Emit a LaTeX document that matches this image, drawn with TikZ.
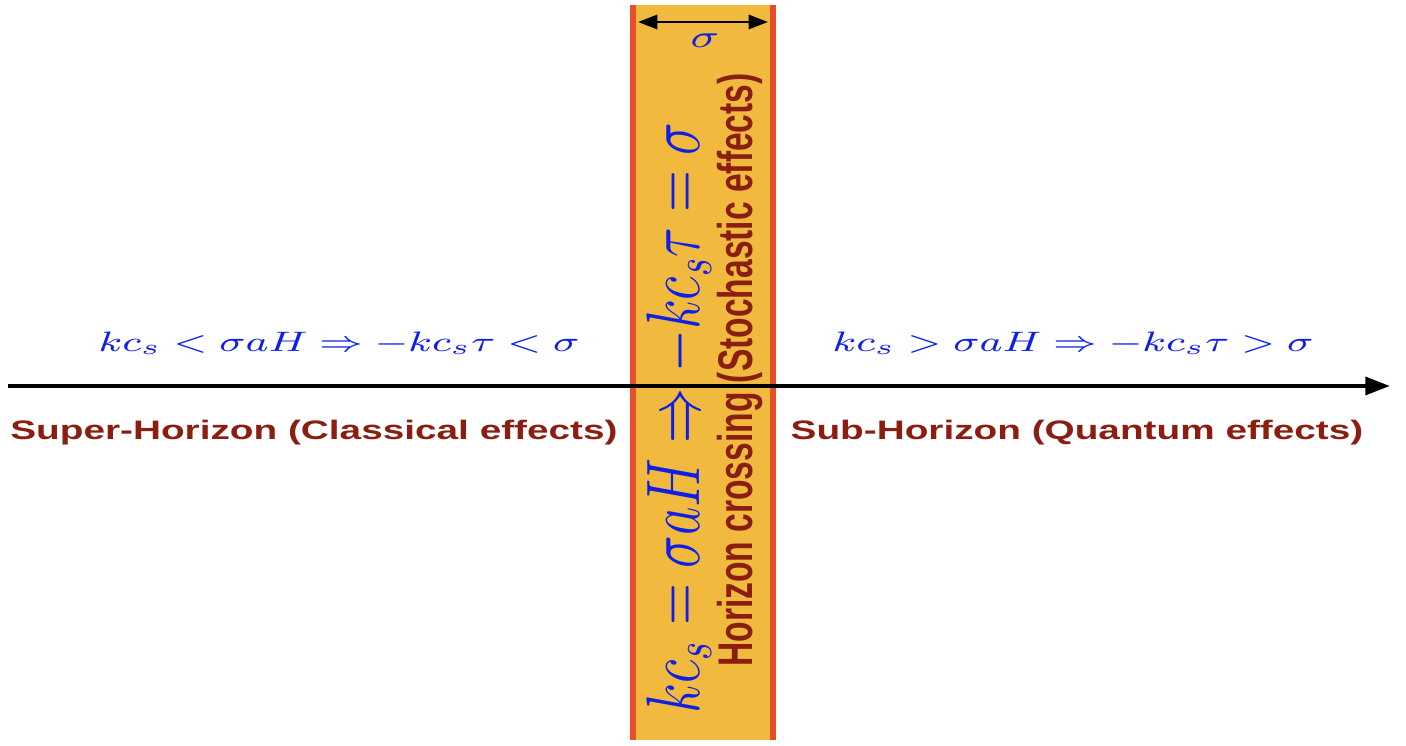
\documentclass[tikz,border=0pt]{standalone}
\usepackage{fontspec}
\newfontfamily\labelfont{Liberation Sans}
\usetikzlibrary{arrows.meta, positioning}
\definecolor{bandfill}{HTML}{F1BA3E}
\definecolor{bandline}{HTML}{E4502A}
\definecolor{relblue}{HTML}{0F1FE6}
\definecolor{regionred}{HTML}{8A1E10}
\tikzset{
  relation/.style  = {text=relblue, inner sep=0pt, font=\fontsize{8.35}{10}\selectfont},
  region/.style    = {text=regionred, inner sep=0pt, font=\labelfont\bfseries\fontsize{7.6}{9}\selectfont},
  bandedge/.style  = {draw=bandline, line width=1.5pt},
  timeaxis/.style  = {-{Triangle[length=7pt, width=5pt]}, line width=1.2pt},
  widtharrow/.style = {{Triangle[length=5.5pt, width=4pt]}-{Triangle[length=5.5pt, width=4pt]}, line width=0.8pt}
}
% the reference is stretched sideways
\newcommand{\wide}[1]{\scalebox{1.45}[1]{#1}}
\newcommand{\tall}[1]{\scalebox{1}[1.45]{#1}}

\begin{document}
\begin{tikzpicture}[x=0.01cm, y=-0.01cm]
\useasboundingbox (0,0) rectangle (1406,746);
% horizon crossing band
\fill[bandfill] (633,5) rectangle (773,740);
\coordinate (bandNW) at (633,5);   \coordinate (bandSW) at (633,740);
\coordinate (bandNE) at (773,5);   \coordinate (bandSE) at (773,740);
\draw[bandedge] (bandNW) -- (bandSW);
\draw[bandedge] (bandNE) -- (bandSE);
\coordinate (sigL) at (638,22);  \coordinate (sigR) at (768,22);
\draw[widtharrow] (sigL) -- (sigR);
\node[relation, font=\fontsize{9}{11}\selectfont] (sig) at (705,41) {\wide{$\sigma$}};
% axis
\coordinate (axisL) at (8,386);  \coordinate (axisR) at (1390,386);
\draw[timeaxis] (axisL) -- (axisR);
\node[relation] (superrel) at (339,343) {\wide{$kc_s < \sigma a H \Rightarrow -kc_s\tau < \sigma$}};
\node[relation] (subrel)   at (1073,343) {\wide{$kc_s > \sigma a H \Rightarrow -kc_s\tau > \sigma$}};
\node[region] (super) at (314,433) {\wide{Super-Horizon (Classical effects)}};
\node[region] (sub)   at (1077,433) {\wide{Sub-Horizon (Quantum effects)}};
\node[relation, rotate=90, font=\fontsize{14.4}{17}\selectfont] (crossrel) at (679,418)
  {\scalebox{1.087}[1.5]{$kc_s = \sigma a H \Rightarrow -kc_s\tau = \sigma$}};
\node[region, rotate=90, font=\labelfont\bfseries\fontsize{9.55}{11}\selectfont] (cross) at (740,370)
  {\tall{Horizon crossing (Stochastic effects)}};
\end{tikzpicture}
\end{document}
